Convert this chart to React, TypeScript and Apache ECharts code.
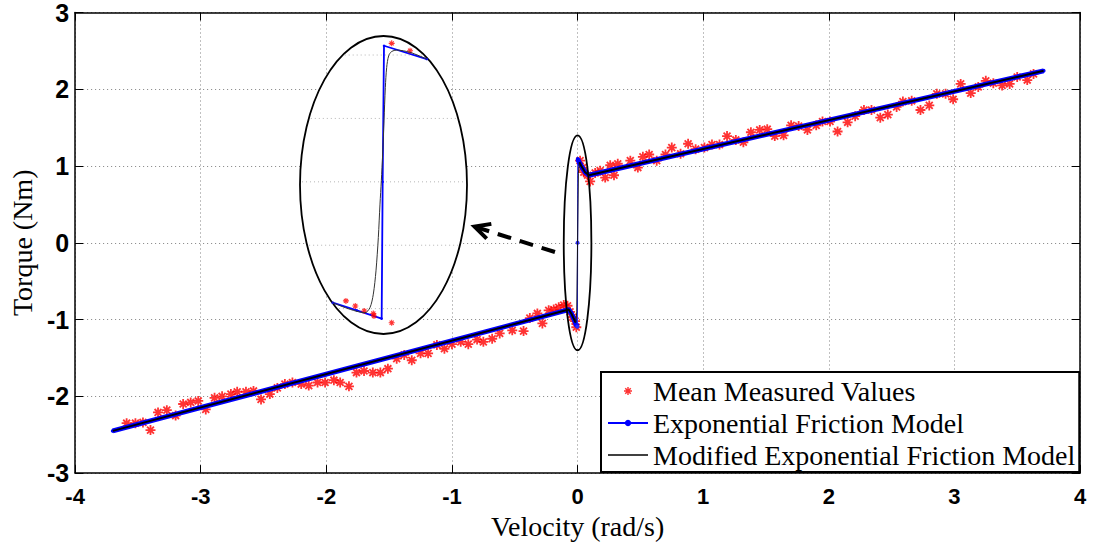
import React, { useEffect, useRef } from 'react';
import * as echarts from 'echarts';

// ---------- data ----------
const xTicks = { min: -4, max: 4, interval: 1 };
const yTicks = { min: -3, max: 3, interval: 1 };

// mean measured torque, negative velocities [rad/s, Nm]
const measuredNeg: number[][] = [
  [-3.59, -2.35], [-3.52, -2.35], [-3.46, -2.34], [-3.40, -2.44], [-3.34, -2.21],
  [-3.27, -2.18], [-3.20, -2.25], [-3.14, -2.10], [-3.08, -2.08], [-3.02, -2.06],
  [-2.96, -2.17], [-2.89, -2.02], [-2.83, -2.00], [-2.76, -1.97], [-2.71, -1.94],
  [-2.64, -1.94], [-2.58, -1.93], [-2.52, -2.04], [-2.45, -1.97], [-2.39, -1.89],
  [-2.33, -1.84], [-2.27, -1.82], [-2.20, -1.84], [-2.14, -1.86], [-2.07, -1.82],
  [-2.01, -1.82], [-1.94, -1.79], [-1.89, -1.82], [-1.82, -1.87], [-1.76, -1.69],
  [-1.70, -1.67], [-1.63, -1.69], [-1.57, -1.69], [-1.51, -1.64], [-1.44, -1.51],
  [-1.38, -1.46], [-1.32, -1.53], [-1.25, -1.44], [-1.19, -1.44], [-1.12, -1.33],
  [-1.06, -1.38], [-1.00, -1.32], [-0.93, -1.29], [-0.87, -1.32], [-0.80, -1.26],
  [-0.75, -1.29], [-0.68, -1.25], [-0.62, -1.18], [-0.52, -1.14], [-0.43, -1.15],
  [-0.38, -0.98], [-0.32, -0.92], [-0.28, -1.05], [-0.23, -0.88], [-0.19, -0.87],
  [-0.15, -0.84], [-0.11, -0.81], [-0.08, -0.82], [-0.06, -0.90], [-0.04, -0.97],
  [-0.02, -1.02], [-0.01, -1.10]
];

// mean measured torque, positive velocities
const measuredPos: number[][] = [
  [0.02, 1.07], [0.04, 0.98], [0.05, 0.92], [0.08, 0.88], [0.10, 0.80],
  [0.14, 0.91], [0.18, 0.94], [0.22, 0.85], [0.26, 1.01], [0.29, 0.88],
  [0.32, 1.03], [0.42, 1.07], [0.48, 0.98], [0.52, 1.12], [0.57, 1.15],
  [0.63, 1.07], [0.70, 1.15], [0.75, 1.24], [0.82, 1.16], [0.88, 1.29],
  [0.94, 1.22], [1.01, 1.24], [1.07, 1.28], [1.13, 1.28], [1.19, 1.39],
  [1.26, 1.34], [1.32, 1.31], [1.38, 1.44], [1.45, 1.47], [1.51, 1.48],
  [1.57, 1.39], [1.64, 1.40], [1.70, 1.53], [1.76, 1.52], [1.83, 1.47],
  [1.90, 1.53], [1.95, 1.58], [2.01, 1.58], [2.07, 1.45], [2.15, 1.57],
  [2.21, 1.65], [2.28, 1.73], [2.34, 1.73], [2.41, 1.63], [2.47, 1.67],
  [2.54, 1.77], [2.59, 1.84], [2.66, 1.85], [2.73, 1.73], [2.80, 1.79],
  [2.86, 1.94], [2.93, 1.94], [2.99, 1.87], [3.05, 2.07], [3.13, 1.95],
  [3.19, 2.03], [3.25, 2.11], [3.31, 2.08], [3.38, 2.05], [3.44, 2.07],
  [3.50, 2.16], [3.58, 2.12], [3.63, 2.20]
];

// exponential friction model: negative branch, jump through zero, positive branch
const expNeg: number[][] = [
  [-3.70, -2.45], [-0.07, -0.87], [-0.05, -0.92], [-0.03, -0.99], [-0.01, -1.07], [-0.002, -1.09]
];
const expJump: number[][] = [[-0.002, -1.09], [0, 0], [0.002, 1.09]];
const expPos: number[][] = [
  [0.002, 1.09], [0.01, 1.06], [0.03, 1.0], [0.06, 0.92], [0.09, 0.88], [3.71, 2.24]
];

// modified exponential friction model
const modNeg: number[][] = [
  [-3.70, -2.45], [-0.07, -0.87], [-0.05, -0.92], [-0.03, -0.99], [-0.015, -1.04]
];
const modJump: number[][] = [[-0.015, -1.04], [-0.006, -0.90], [0, 0], [0.006, 0.90], [0.015, 1.05]];
const modPos: number[][] = [
  [0.015, 1.05], [0.03, 1.0], [0.06, 0.92], [0.09, 0.88], [3.71, 2.24]
];

// magnified view around zero velocity (inset)
const insetMeasured: number[][] = [
  [0.0049, 1.092], [0.0159, 1.034], [-0.0225, -0.939], [-0.0169, -0.979],
  [-0.0115, -1.018], [-0.0061, -1.039], [-0.0057, -1.058], [0.0049, -1.111]
];
const insetExp: number[][] = [
  [-0.0304, -0.953], [-0.016, -1.014], [-0.0011, -1.079], [-0.0005, 0],
  [0.0003, 1.073], [0.0259, 0.968]
];
const insetMod: number[][] = [
  [-0.0304, -0.953], [-0.0111, -1.032], [-0.0081, -0.992], [-0.0061, -0.886],
  [-0.0045, -0.702], [-0.0031, -0.44], [-0.0021, -0.176], [-0.0013, 0.008],
  [-0.0005, 0.219], [0.0003, 0.481], [0.0011, 0.744], [0.0019, 0.902],
  [0.0031, 0.994], [0.0049, 1.028], [0.0079, 1.039], [0.0159, 1.021], [0.0259, 0.968]
];
const insetRange = { xMin: -0.05, xMax: 0.05, yMin: -1.2, yMax: 1.15 };
const insetGridY = [1, 0.5, 0, -0.5, -1];

// annotations (data coordinates of main axes)
const zoomOval = { cx: 0, cy: 0, rx: 0.11, ry: 1.4 };
const arrowTail = [-0.18, -0.12];
const arrowTip = [-0.82, 0.21];

const ASTERISK =
  'path://M0,4.1L10,4.1L10,5.9L0,5.9Z M4.1,0L5.9,0L5.9,10L4.1,10Z M0.9,2.2L2.2,0.9L9.1,7.8L7.8,9.1Z M7.8,0.9L9.1,2.2L2.2,9.1L0.9,7.8Z';

const EXP = 'Exponential Friction Model';
const MOD = 'Modified Exponential Friction Model';
const MEAS = 'Mean Measured Values';

export default function App() {
  const ref = useRef<HTMLDivElement>(null);
  useEffect(() => {
    const chart = echarts.init(ref.current as HTMLDivElement, null, { renderer: 'svg' });
    const serif = "'Liberation Serif','Times New Roman',serif";
    const sans = "'Liberation Sans',Arial,sans-serif";
    const insetBox = { left: 300, top: 36, width: 167, height: 298 };
    const frameLine = { show: true, onZero: false, lineStyle: { color: '#000', width: 1.5 } };
    const tick = { show: true, inside: true, length: 8, lineStyle: { color: '#000', width: 1 } };
    const split = { show: true, lineStyle: { color: '#808080', type: [1, 3], width: 1 } };

    const mainLine = (name: string, data: number[][], color: string, width: number, z: number, sym: boolean) => ({
      name, type: 'line', xAxisIndex: 0, yAxisIndex: 0, data, z,
      symbol: sym ? 'circle' : 'none', symbolSize: 4, showSymbol: sym,
      itemStyle: { color }, lineStyle: { color, width }
    });

    chart.setOption({
      animation: false,
      backgroundColor: '#fff',
      grid: [
        { left: 75, right: 14, top: 12, bottom: 66 },
        { ...insetBox }
      ],
      xAxis: [
        {
          type: 'value', gridIndex: 0, position: 'bottom', ...xTicks,
          axisLine: frameLine, axisTick: tick, splitLine: split,
          axisLabel: { fontFamily: sans, fontWeight: 'bold', fontSize: 22, color: '#000', margin: 12 },
          name: 'Velocity (rad/s)', nameLocation: 'middle', nameGap: 30,
          nameTextStyle: { fontFamily: serif, fontSize: 28, color: '#000' }
        },
        {
          type: 'value', gridIndex: 0, position: 'top', ...xTicks,
          axisLine: frameLine, axisTick: tick, splitLine: { show: false }, axisLabel: { show: false }
        },
        { type: 'value', gridIndex: 1, min: insetRange.xMin, max: insetRange.xMax, show: false, splitLine: { show: false } }
      ],
      yAxis: [
        {
          type: 'value', gridIndex: 0, position: 'left', ...yTicks,
          axisLine: frameLine, axisTick: tick, splitLine: split,
          axisLabel: { fontFamily: sans, fontWeight: 'bold', fontSize: 25, color: '#000', margin: 6 },
          name: 'Torque (Nm)', nameLocation: 'middle', nameGap: 36,
          nameTextStyle: { fontFamily: serif, fontSize: 28, color: '#000' }
        },
        {
          type: 'value', gridIndex: 0, position: 'right', ...yTicks,
          axisLine: frameLine, axisTick: tick, splitLine: { show: false }, axisLabel: { show: false }
        },
        { type: 'value', gridIndex: 1, min: insetRange.yMin, max: insetRange.yMax, show: false, splitLine: { show: false } }
      ],
      legend: {
        show: true, orient: 'vertical', left: 601, top: 372, z: 20,
        padding: [4, 4, 2, 6], itemWidth: 40, itemHeight: 8, itemGap: 2,
        backgroundColor: '#fff', borderColor: '#000', borderWidth: 2, borderRadius: 0,
        textStyle: { fontFamily: serif, fontSize: 28, color: '#000', lineHeight: 30 },
        data: [
          { name: MEAS, icon: ASTERISK },
          { name: EXP, lineStyle: { width: 2 } },
          { name: MOD, lineStyle: { width: 1.5 }, itemStyle: { opacity: 0 } }
        ]
      },
      series: [
        {
          name: MEAS, type: 'scatter', xAxisIndex: 0, yAxisIndex: 0,
          data: measuredNeg.concat(measuredPos), symbol: ASTERISK, symbolSize: 10, z: 2,
          itemStyle: { color: '#ff0000' }
        },
        mainLine(EXP, expNeg, '#0000ff', 5, 3, true),
        mainLine(EXP, expJump, '#2a2aff', 1.2, 3, true),
        mainLine(EXP, expPos, '#0000ff', 5, 3, true),
        mainLine(MOD, modNeg, '#000', 2, 4, false),
        mainLine(MOD, modJump, '#111', 1, 4, false),
        mainLine(MOD, modPos, '#000', 2, 4, false),
        {
          name: 'inset measured', type: 'scatter', xAxisIndex: 2, yAxisIndex: 2,
          data: insetMeasured, symbol: ASTERISK, symbolSize: 6, z: 6,
          itemStyle: { color: '#ff0000' }
        },
        {
          name: 'inset exponential', type: 'line', xAxisIndex: 2, yAxisIndex: 2,
          data: insetExp, symbol: 'circle', symbolSize: 2.5, showSymbol: true, z: 6,
          itemStyle: { color: '#0000ff' }, lineStyle: { color: '#0000ff', width: 1.8 }
        },
        {
          name: 'inset modified', type: 'line', xAxisIndex: 2, yAxisIndex: 2,
          data: insetMod, symbol: 'none', smooth: 0.3, z: 7,
          itemStyle: { color: '#333' }, lineStyle: { color: '#333', width: 1 }
        }
      ]
    });

    // annotations positioned through the axes
    const px = (p: number[]) => chart.convertToPixel({ gridIndex: 0 }, p) as number[];
    const ipx = (p: number[]) => chart.convertToPixel({ gridIndex: 1 }, p) as number[];
    const cx = insetBox.left + insetBox.width / 2;
    const cy = insetBox.top + insetBox.height / 2;
    const rx = insetBox.width / 2;
    const ry = insetBox.height / 2;

    const insetLines = insetGridY.map((v) => {
      const y = ipx([0, v])[1];
      const dy = (y - cy) / ry;
      const half = rx * Math.sqrt(Math.max(0, 1 - dy * dy)) - 2;
      return {
        type: 'line', z: 2, silent: true,
        shape: { x1: cx - half, y1: y, x2: cx + half, y2: y },
        style: { stroke: '#b5b5b5', lineWidth: 1, lineDash: [1, 3] }
      };
    });

    const oc = px([zoomOval.cx, zoomOval.cy]);
    const orx = px([zoomOval.cx + zoomOval.rx, zoomOval.cy])[0] - oc[0];
    const ory = oc[1] - px([zoomOval.cx, zoomOval.cy + zoomOval.ry])[1];

    const tail = px(arrowTail);
    const tip = px(arrowTip);
    const dx = tail[0] - tip[0];
    const dy = tail[1] - tip[1];
    const len = Math.hypot(dx, dy);
    const ux = dx / len, uy = dy / len;
    const ang = (27 * Math.PI) / 180;
    const armLen = 17;
    const rot = (a: number) => [
      tip[0] + armLen * (ux * Math.cos(a) - uy * Math.sin(a)),
      tip[1] + armLen * (ux * Math.sin(a) + uy * Math.cos(a))
    ];

    chart.setOption({
      graphic: [
        {
          type: 'ellipse', z: 1, silent: true,
          shape: { cx, cy, rx, ry },
          style: { fill: '#fff', stroke: '#000', lineWidth: 1.8 }
        },
        ...insetLines,
        {
          type: 'ellipse', z: 10, silent: true,
          shape: { cx: oc[0], cy: oc[1], rx: orx, ry: ory },
          style: { fill: 'none', stroke: '#000', lineWidth: 1.8 }
        },
        {
          type: 'line', z: 10, silent: true,
          shape: { x1: tail[0], y1: tail[1], x2: tip[0] + ux * 4, y2: tip[1] + uy * 4 },
          style: { stroke: '#000', lineWidth: 4, lineDash: [14, 9] }
        },
        {
          type: 'polyline', z: 10, silent: true,
          shape: { points: [rot(ang), tip, rot(-ang)] },
          style: { stroke: '#000', lineWidth: 4, fill: 'none', lineJoin: 'miter' }
        }
      ]
    });

    return () => chart.dispose();
  }, []);

  return (
    <div
      ref={ref}
      style={{ position: 'fixed', left: 0, top: 0, width: 1094, height: 545, background: '#fff' }}
    />
  );
}
